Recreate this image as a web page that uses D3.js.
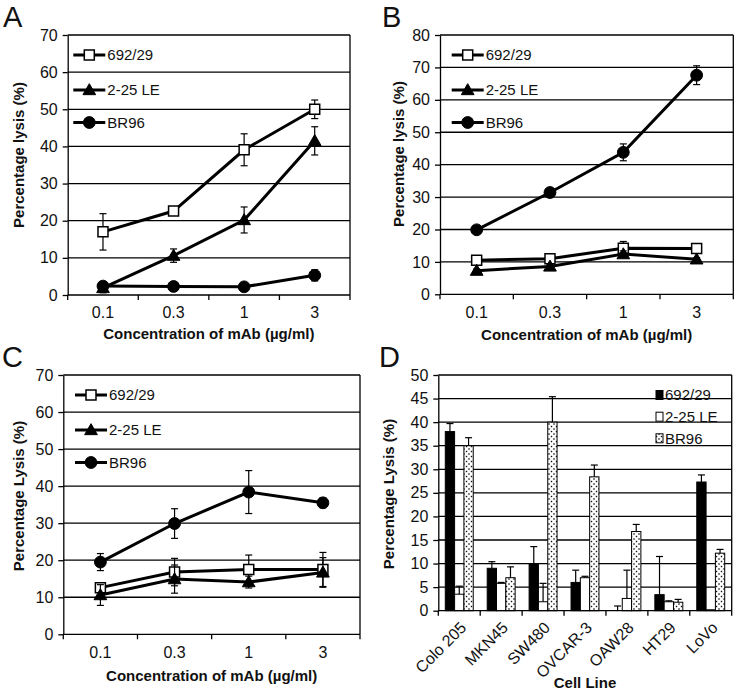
<!DOCTYPE html>
<html><head><meta charset="utf-8">
<script src="https://cdn.jsdelivr.net/npm/d3@7"></script>
<style>
body{margin:0;background:#fff}
svg{display:block}
text{font-family:"Liberation Sans",Arial,Helvetica,sans-serif;fill:#111}
</style>
</head><body>
<svg id="c" width="740" height="692"></svg>
<script>
// ---------- DATA ----------
const concentrations = ["0.1", "0.3", "1", "3"];
const seriesNames = ["692/29", "2-25 LE", "BR96"];

// Panel A
const a692 = [17.0, 22.6, 39.1, 50.0];
const a692Err = [4.9, 0.8, 4.3, 2.5];
const a225 = [1.9, 10.6, 20.2, 41.5];
const a225Err = [1.3, 1.8, 3.5, 3.8];
const aBR96 = [2.4, 2.3, 2.2, 5.3];
const aBR96Err = [1.2, 0.4, 0.4, 1.5];

// Panel B
const b692 = [10.5, 11.0, 14.2, 14.1];
const b692Err = [0.6, 1.0, 2.1, 0.8];
const b225 = [7.3, 8.6, 12.4, 10.8];
const b225Err = [0.5, 0.6, 1.0, 0.5];
const bBR96 = [19.9, 31.4, 43.8, 67.6];
const bBR96Err = [0.5, 0.5, 2.6, 2.9];

// Panel C
const c692 = [12.6, 16.8, 17.5, 17.5];
const c692Err = [1.2, 3.7, 3.9, 4.6];
const c225 = [10.6, 14.9, 14.1, 16.7];
const c225Err = [2.8, 3.8, 1.6, 4.0];
const cBR96 = [19.5, 29.9, 38.4, 35.5];
const cBR96Err = [2.3, 4.0, 5.8, 1.3];

// Panel D
const cellLines = ["Colo 205", "MKN45", "SW480", "OVCAR-3", "OAW28", "HT29", "LoVo"];
const d692 = [38.0, 9.0, 9.8, 6.0, 0.0, 3.4, 27.3];
const d692Err = [1.7, 1.4, 3.8, 2.6, 1.0, 8.1, 1.5];
const d225 = [3.5, 5.8, 1.9, 7.0, 2.6, 1.9, 0.2];
const d225Err = [1.7, 0.2, 3.9, 0.3, 6.0, 0.2, 0.0];
const dBR96 = [35.0, 7.0, 40.0, 28.4, 16.8, 1.8, 12.2];
const dBR96Err = [1.7, 2.3, 5.4, 2.5, 1.5, 0.6, 0.8];

// ---------- DRAW ----------
const svg = d3.select("#c");
const defs = svg.append("defs");
const pat = defs.append("pattern").attr("id","dots").attr("patternUnits","userSpaceOnUse")
  .attr("width",5).attr("height",5);
pat.append("rect").attr("width",5).attr("height",5).attr("fill","#fff");
pat.append("rect").attr("x",0.8).attr("y",0.8).attr("width",1.4).attr("height",1.4).attr("fill","#111");
pat.append("rect").attr("x",3.3).attr("y",3.3).attr("width",1.4).attr("height",1.4).attr("fill","#111");

const GRID_W = 1.3;
const TICK_FS = 16;

function styleAxis(sel){
  sel.select(".domain").attr("stroke","#000").attr("stroke-width",GRID_W);
  sel.selectAll(".tick line").attr("stroke","#000").attr("stroke-width",GRID_W);
  sel.selectAll(".tick text").attr("font-size",TICK_FS).attr("fill","#111")
    .style("font-family",'"Liberation Sans",Arial,sans-serif');
}

function frame(g, p, y, ticks){
  g.selectAll(".grid").data(ticks.filter(t=>t>0)).join("line")
    .attr("x1",p.left).attr("x2",p.right)
    .attr("y1",d=>y(d)).attr("y2",d=>y(d))
    .attr("stroke","#000").attr("stroke-width",GRID_W);
  g.append("line").attr("x1",p.right).attr("x2",p.right)
    .attr("y1",p.top).attr("y2",p.bottom)
    .attr("stroke","#000").attr("stroke-width",GRID_W);
  const ya = d3.axisLeft(y).tickValues(ticks).tickSizeInner(5).tickSizeOuter(0).tickPadding(5);
  g.append("g").attr("transform",`translate(${p.left},0)`).call(ya).call(styleAxis);
}

function boundaryTicks(g, x, p){
  const b = x.domain().map(d=>x(d)).concat([p.right]);
  g.selectAll(".bt").data(b).join("line")
    .attr("x1",d=>d).attr("x2",d=>d).attr("y1",p.bottom).attr("y2",p.bottom+5)
    .attr("stroke","#000").attr("stroke-width",GRID_W);
}

function titles(g, p){
  g.append("text").attr("x",p.letterX).attr("y",p.letterY).attr("font-size",29)
    .attr("fill","#000").text(p.letter);
  g.append("text").attr("transform",`translate(${p.yTitleX},${p.yTitleY}) rotate(-90)`)
    .attr("text-anchor","middle").attr("font-size",15).attr("font-weight","bold")
    .text(p.yTitle);
  g.append("text").attr("x",(p.left+p.right)/2).attr("y",p.xTitleY)
    .attr("text-anchor","middle").attr("font-size",15).attr("font-weight","bold")
    .text(p.xTitle);
}

const markerSym = {
  square: d3.symbol().type(d3.symbolSquare).size(100),
  triangle: d3.symbol().type(d3.symbolTriangle).size(70),
  circle: d3.symbol().type(d3.symbolCircle).size(110)
};
const markerFill = {square:"#fff", triangle:"#000", circle:"#000"};
const markers = ["square","triangle","circle"];

function linePanel(p){
  const g = svg.append("g");
  const x = d3.scaleBand().domain(concentrations).range([p.left,p.right]);
  const y = d3.scaleLinear().domain([0,p.yMax]).range([p.bottom,p.top]);
  const ticks = d3.range(0,p.yMax+0.1,10);
  frame(g,p,y,ticks);
  boundaryTicks(g,x,p);
  const xa = d3.axisBottom(x).tickSizeInner(0).tickSizeOuter(0).tickPadding(12);
  const xg = g.append("g").attr("transform",`translate(0,${p.bottom})`).call(xa).call(styleAxis);
  xg.select(".domain").attr("d",`M${p.left},0H${p.right}`);
  titles(g,p);
  const cx = c => x(c)+x.bandwidth()/2;
  p.series.forEach((s,si)=>{
    const pts = concentrations.map((c,i)=>({c, v:s.values[i], e:s.errs[i]}));
    const sg = g.append("g");
    pts.forEach(d=>{
      const x0 = cx(d.c), y1 = y(d.v+d.e), y2 = y(Math.max(0,d.v-d.e));
      sg.append("line").attr("x1",x0).attr("x2",x0).attr("y1",y1).attr("y2",y2).attr("stroke","#000").attr("stroke-width",1.2);
      [y1,y2].forEach(yy=>sg.append("line").attr("x1",x0-3.5).attr("x2",x0+3.5).attr("y1",yy).attr("y2",yy).attr("stroke","#000").attr("stroke-width",1.2));
    });
    sg.append("path").datum(pts)
      .attr("d",d3.line().x(d=>cx(d.c)).y(d=>y(d.v)))
      .attr("fill","none").attr("stroke","#000").attr("stroke-width",3);
    const m = markers[si];
    sg.selectAll(".mk").data(pts).join("path")
      .attr("transform",d=>`translate(${cx(d.c)},${y(d.v) + (m==="triangle"?1:0)})`)
      .attr("d",markerSym[m]()).attr("fill",markerFill[m]).attr("stroke","#000").attr("stroke-width",m==="square"?1.5:1);
    const ly = p.legendY[si];
    g.append("line").attr("x1",p.legendX).attr("x2",p.legendX+32).attr("y1",ly).attr("y2",ly)
      .attr("stroke","#000").attr("stroke-width",3);
    g.append("path").attr("transform",`translate(${p.legendX+16},${ly+(m==="triangle"?1:0)})`)
      .attr("d",markerSym[m]()).attr("fill",markerFill[m]).attr("stroke","#000").attr("stroke-width",m==="square"?1.5:1);
    g.append("text").attr("x",p.legendX+34).attr("y",ly).attr("dy","0.35em")
      .attr("font-size",15).text(seriesNames[si]);
  });
}

linePanel({left:67.7,right:350,top:35,bottom:295,yMax:70,
  letter:"A",letterX:3,letterY:27,
  yTitle:"Percentage lysis (%)",yTitleX:24,yTitleY:155,
  xTitle:"Concentration of mAb (\u00b5g/ml)",xTitleY:339,
  legendX:73.3,legendY:[55,90,122.5],
  series:[{values:a692,errs:a692Err},{values:a225,errs:a225Err},{values:aBR96,errs:aBR96Err}]});

linePanel({left:440,right:733.3,top:35,bottom:294.3,yMax:80,
  letter:"B",letterX:382,letterY:27,
  yTitle:"Percentage lysis (%)",yTitleX:404,yTitleY:154,
  xTitle:"Concentration of mAb (\u00b5g/ml)",xTitleY:340,
  legendX:451.7,legendY:[55,90,122.5],
  series:[{values:b692,errs:b692Err},{values:b225,errs:b225Err},{values:bBR96,errs:bBR96Err}]});

linePanel({left:63.3,right:360,top:375,bottom:634.3,yMax:70,
  letter:"C",letterX:2,letterY:367,
  yTitle:"Percentage Lysis (%)",yTitleX:24,yTitleY:496,
  xTitle:"Concentration of mAb (\u00b5g/ml)",xTitleY:681,
  legendX:75,legendY:[395,430,462.5],
  series:[{values:c692,errs:c692Err},{values:c225,errs:c225Err},{values:cBR96,errs:cBR96Err}]});

// Panel D (bars)
(function(){
  const p = {left:438.3,right:731.7,top:375,bottom:610.7,yMax:50};
  const g = svg.append("g");
  const x0 = d3.scaleBand().domain(cellLines).range([p.left,p.right]);
  const bw = x0.bandwidth()/4.5;
  const x1 = d3.scaleBand().domain(seriesNames).range([0.75*bw, 3.75*bw]);
  const y = d3.scaleLinear().domain([0,p.yMax]).range([p.bottom,p.top]);
  const ticks = d3.range(0,51,5);
  frame(g,p,y,ticks);
  const fills = ["#000","#fff","url(#dots)"];
  const vals = [d692,d225,dBR96], errs=[d692Err,d225Err,dBR96Err];
  seriesNames.forEach((s,si)=>{
    cellLines.forEach((c,i)=>{
      const v = vals[si][i], e = errs[si][i];
      const bx = x0(c)+x1(s);
      g.append("rect").attr("x",bx).attr("y",y(v)).attr("width",x1.bandwidth()).attr("height",p.bottom-y(v))
        .attr("fill",fills[si]).attr("stroke","#000").attr("stroke-width",1);
      if(e>0){
        const xc = bx + x1.bandwidth()/2;
        g.append("line").attr("x1",xc).attr("x2",xc).attr("y1",y(v)).attr("y2",y(v+e)).attr("stroke","#000").attr("stroke-width",1.2);
        g.append("line").attr("x1",xc-3.5).attr("x2",xc+3.5).attr("y1",y(v+e)).attr("y2",y(v+e)).attr("stroke","#000").attr("stroke-width",1.2);
      }
    });
  });
  g.append("line").attr("x1",p.left).attr("x2",p.right).attr("y1",p.bottom).attr("y2",p.bottom).attr("stroke","#000").attr("stroke-width",GRID_W);
  boundaryTicks(g,x0,p);
  g.selectAll(".xl").data(cellLines).join("text")
    .attr("transform",d=>`translate(${x0(d)+x0.bandwidth()/2+8},${p.bottom+18}) rotate(-45)`)
    .attr("text-anchor","end").attr("font-size",TICK_FS).text(d=>d);
  titles(g,{left:p.left,right:p.right,letter:"D",letterX:379,letterY:367,
    yTitle:"Percentage Lysis (%)",yTitleX:394,yTitleY:494,xTitle:"Cell Line",xTitleY:688});
  const ly = [395,416.7,438.3];
  seriesNames.forEach((s,si)=>{
    g.append("rect").attr("x",656).attr("y",ly[si]-4.5).attr("width",7).attr("height",9)
      .attr("fill",fills[si]).attr("stroke","#000").attr("stroke-width",1);
    g.append("text").attr("x",665).attr("y",ly[si]).attr("dy","0.35em").attr("font-size",15).text(s);
  });
})();
</script>
</body></html>
